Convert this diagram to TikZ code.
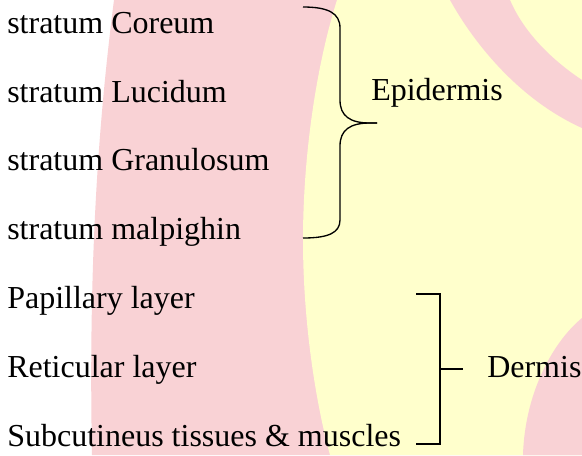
\documentclass[tikz,border=0pt]{standalone}
\usepackage{fontspec}
\setmainfont{Liberation Serif}
\usepackage{xcolor}
\usepackage{tikz}
\usetikzlibrary{positioning}

\definecolor{wmpink}{HTML}{F9D2D5}
\definecolor{wmyellow}{HTML}{FFFFCC}

\begin{document}
\begin{tikzpicture}[
    x=0.75pt, y=-0.75pt,
    layer/.style={inner sep=0pt, anchor=base west, font=\fontsize{24}{28}\selectfont},
    nextlayer/.style={below=51.6pt of #1.base west, anchor=base west},
    bracestroke/.style={draw=black, line width=1pt}
]

% background
\useasboundingbox (0,0) rectangle (582,455);
\fill[white] (0,0) rectangle (582,455);
\fill[wmpink] (114,0) .. controls (100,110) and (88,250) .. (92,455) -- (582,455) -- (582,0) -- cycle;
\fill[wmyellow] (337,0) .. controls (315,70) and (303,160) .. (303,240) .. controls (303,320) and (315,400) .. (330,455) -- (582,455) -- (582,0) -- cycle;
\fill[wmpink] (450,0) .. controls (475,45) and (520,100) .. (582,128) -- (582,80) .. controls (555,62) and (525,35) .. (510,0) -- cycle;
\fill[wmpink] (582,318) .. controls (555,340) and (525,390) .. (523,455) -- (582,455) -- cycle;

\node[layer] (coreum) at (7,33.3) {stratum Coreum};
\node[layer, nextlayer=coreum] (lucidum) {stratum Lucidum};
\node[layer, nextlayer=lucidum] (granulosum) {stratum Granulosum};
\node[layer, nextlayer=granulosum] (malpighin) {stratum malpighin};
\node[layer, nextlayer=malpighin] (papillary) {Papillary layer};
\node[layer, nextlayer=papillary] (reticular) {Reticular layer};
\node[layer, nextlayer=reticular] (subcut) {Subcutineus tissues \& muscles};

\node[layer] (epidermis) at (371,100.7) {Epidermis};
\node[layer] (dermis) at (487,377) {Dermis};

% epidermis brace
\draw[bracestroke] (303,7) .. controls (328,7) and (340,13) .. (340,28) -- (340,100) .. controls (340,116) and (350,123) .. (370,123) -- (377,123);
\draw[bracestroke] (377,123) -- (370,123) .. controls (350,123) and (340,130) .. (340,146) -- (340,220) .. controls (340,233) and (328,238) .. (303,238);

% dermis bracket
\draw[bracestroke] (416,294) -| (440,444) -- (416,444);
\draw[bracestroke] (440,369) -- (463,369);

\end{tikzpicture}
\end{document}
